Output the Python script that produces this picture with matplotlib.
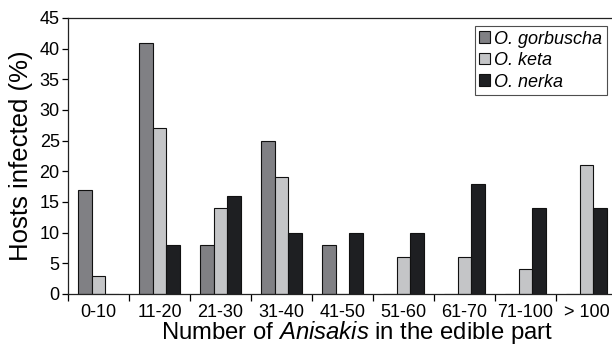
import matplotlib
matplotlib.use("Agg")
import matplotlib.pyplot as plt
import numpy as np

categories = ["0-10", "11-20", "21-30", "31-40", "41-50", "51-60", "61-70", "71-100", "> 100"]
gorbuscha = [17, 41, 8, 25, 8, 0, 0, 0, 0]
keta = [3, 27, 14, 19, 0, 6, 6, 4, 21]
nerka = [0, 8, 16, 10, 10, 10, 18, 14, 14]
series_names = ["O. gorbuscha", "O. keta", "O. nerka"]
colors = ["#808084", "#c4c5c7", "#1e1f22"]

plt.rcParams['font.family'] = ['Liberation Sans', 'DejaVu Sans']
plt.rcParams['mathtext.fontset'] = 'custom'
plt.rcParams['mathtext.rm'] = 'Liberation Sans'
plt.rcParams['mathtext.it'] = 'Liberation Sans:italic'

fig = plt.figure(figsize=(6.12, 3.48), dpi=100)
ax = fig.add_axes([68/612, 1 - 294/348, 549/612, 276/348])

x = np.arange(len(categories))
w = 0.22
for i, (vals, name, c) in enumerate(zip([gorbuscha, keta, nerka], series_names, colors)):
    ax.bar(x + (i - 1) * w, vals, width=w, color=c, edgecolor="#111111", linewidth=0.8, label=name)

ax.set_xlim(-0.5, len(categories) - 0.5)
ax.set_ylim(0, 45)
ax.set_yticks(range(0, 46, 5))
ax.set_xticks(x)
ax.set_xticklabels(categories, fontsize=13)
ax.set_xticks(np.arange(-0.5, len(categories), 1), minor=True)
ax.tick_params(axis='x', which='major', length=0, pad=7)
ax.tick_params(axis='x', which='minor', length=5, direction='out', width=0.9)
ax.tick_params(axis='y', length=4, direction='out', width=0.9, labelsize=13, pad=2)
for s in ax.spines.values():
    s.set_linewidth(0.9)
    s.set_color("#222222")
ax.spines['right'].set_visible(False)

ax.set_ylabel("Hosts infected (%)", fontsize=18.5)
ax.yaxis.set_label_coords(-(68 - 33) / 549, 0.5)
ax.set_xlabel("Number of $\\it{Anisakis}$ in the edible part", fontsize=17.2)
ax.xaxis.set_label_coords((357 - 68) / 549, -(339 - 294) / 276)
ax.xaxis.label.set_va('baseline')

leg = ax.legend(loc='upper right', bbox_to_anchor=((607 - 68) / 549, 1 - 8/276),
                prop={'style': 'italic', 'size': 13}, frameon=True, fancybox=False,
                edgecolor="#222222", handlelength=0.6, handleheight=0.6, handletextpad=0.25,
                borderpad=0.25, labelspacing=0.25, borderaxespad=0)
leg.get_frame().set_linewidth(0.8)

fig.savefig("out.png", dpi=100)
